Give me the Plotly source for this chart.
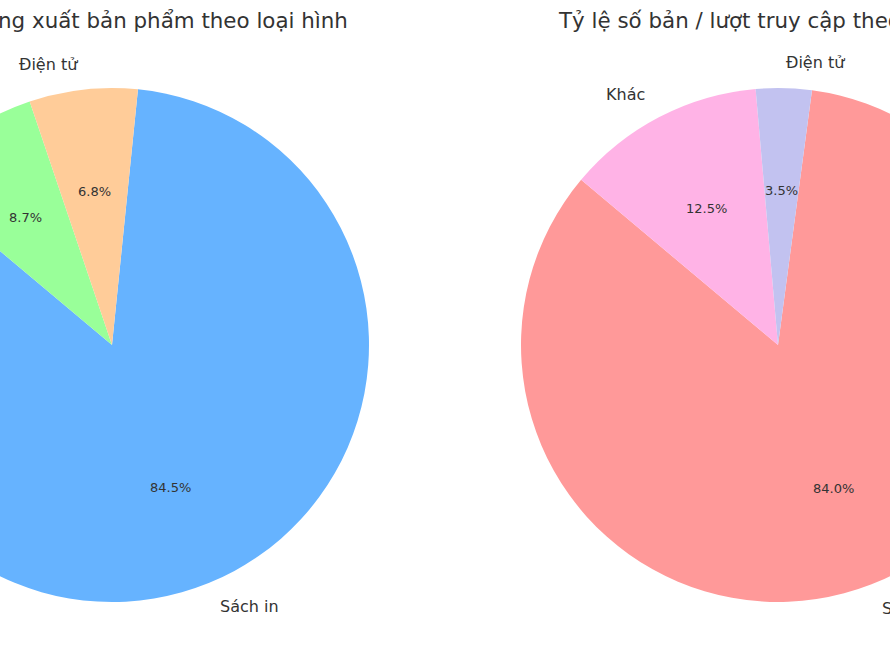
import math
import plotly.graph_objects as go

# ---- data ----
categories = ["Sách in", "Khác", "Điện tử"]
left_values = [84.5, 8.7, 6.8]
right_values = [84.0, 12.5, 3.5]
left_title = "Tỷ lệ số lượng xuất bản phẩm theo loại hình"
right_title = "Tỷ lệ số bản / lượt truy cập theo loại hình"
left_colors = ["#66b3ff", "#99ff99", "#ffcc99"]
right_colors = ["#ff9999", "#ffb3e6", "#c2c2f0"]

# ---- layout geometry (figure px) ----
W, H = 1400, 664
SHIFT = 300
R = 257
CY = 345
START = 140  # matplotlib-style start angle of first wedge (deg, ccw from +x)
FONT = "DejaVu Sans"

fig = go.Figure()
annotations = []


def add_pie(values, colors, cx, title):
    total = sum(values)
    fr = [v / total for v in values]
    # first slice drawn clockwise, so its start = end of ccw sweep
    rot = (90 - START - fr[0] * 360) % 360
    fig.add_trace(go.Pie(
        labels=categories, values=values, sort=False, direction="clockwise",
        rotation=rot, textinfo="none", hoverinfo="label+percent",
        marker=dict(colors=colors, line=dict(width=0)),
        domain=dict(x=[(cx - R) / W, (cx + R) / W],
                    y=[(H - (CY + R)) / H, (H - (CY - R)) / H]),
        showlegend=False,
    ))
    cum = 0.0
    for lab, f in zip(categories, fr):
        mid = math.radians(rot + (cum + f / 2) * 360)
        cum += f
        sx, sy = math.sin(mid), math.cos(mid)
        # outer label
        lx, ly = cx + 1.1 * R * sx, (H - CY) + 1.1 * R * sy
        annotations.append(dict(
            x=lx / W, y=ly / H, xref="paper", yref="paper", text=lab,
            showarrow=False, xanchor="left" if sx > 0 else "right",
            yanchor="middle", font=dict(family=FONT, size=16, color="#333333")))
        # percent
        px, py = cx + 0.6 * R * sx, (H - CY) + 0.6 * R * sy
        annotations.append(dict(
            x=px / W, y=py / H, xref="paper", yref="paper",
            text=f"{f * 100:.1f}%", showarrow=False, xanchor="center",
            yanchor="middle", font=dict(family=FONT, size=13, color="#333333")))
    annotations.append(dict(
        x=cx / W, y=(H - 21) / H, xref="paper", yref="paper", text=title,
        showarrow=False, xanchor="center", yanchor="middle",
        font=dict(family=FONT, size=21.4, color="#333333")))


add_pie(left_values, left_colors, 112 + SHIFT, left_title)
add_pie(right_values, right_colors, 778 + SHIFT, right_title)

fig.update_layout(
    width=W, height=H, margin=dict(l=0, r=0, t=0, b=0),
    paper_bgcolor="white", plot_bgcolor="white",
    annotations=annotations, font=dict(family=FONT),
)

post = (
    "document.body.style.margin='0';"
    "document.body.style.overflow='hidden';"
    "var d=document.getElementById('{plot_id}');"
    "d.style.position='absolute';d.style.top='0px';"
    "d.style.left='-" + str(SHIFT) + "px';"
)
fig.write_html("out.html", post_script=post, config=dict(displayModeBar=False))
